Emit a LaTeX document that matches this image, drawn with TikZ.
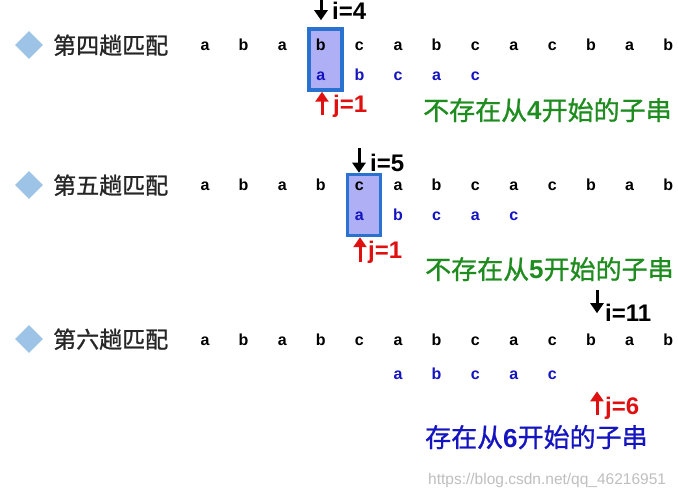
\documentclass[tikz,border=0pt]{standalone}
\usepackage{fontspec}
\setmainfont{Liberation Sans}
\newfontfamily\cjk{Noto Sans CJK SC}[FakeBold=1]
\usetikzlibrary{arrows.meta,positioning,shapes.geometric}
\definecolor{boxfill}{HTML}{AFAFF5}
\definecolor{boxline}{HTML}{2A72D0}
\definecolor{patblue}{HTML}{1414C0}
\definecolor{jred}{HTML}{E01010}
\definecolor{okgreen}{HTML}{1E8C1E}
\definecolor{diablue}{HTML}{9DC3E6}
\tikzset{
    ch/.style={
           anchor=base,
           inner sep=0pt,
           font=\bfseries\fontsize{16}{16}\selectfont},
    pat/.style={
           ch,
           text=patblue},
    rowlbl/.style={
           anchor=base west,
           inner sep=0pt,
           text=black!85,
           font=\cjk\fontsize{23}{23}\selectfont},
    diam/.style={
           diamond,
           fill=diablue,
           minimum width=28pt,
           minimum height=28pt,
           inner sep=0pt},
    win/.style={
           draw=boxline, line width=3.5pt,
           fill=boxfill,
           minimum width=33pt,
           minimum height=61pt,
           inner sep=0pt},
    ptr/.style={
           line width=3pt,
           -{Triangle[width=13pt,length=10pt]}},
    ijlbl/.style={
           anchor=base west,
           inner sep=0pt,
           font=\bfseries\fontsize{24}{24}\selectfont},
    note/.style={
           anchor=base west,
           inner sep=0pt,
           font=\cjk\fontsize{26}{26}\selectfont}
}

\begin{document}
\begin{tikzpicture}[x=1pt, y=-1pt]
        \useasboundingbox[fill=white] (0,0) rectangle (678,497);

        % windows round the first compared letter
        \node[win] (win4) at (325.5,59.5) {};
        \node[win] (win5) at (364,205) {};

        % rows
        \foreach \r/\y/\t in {4/51/第四趟匹配, 5/191/第五趟匹配, 6/345/第六趟匹配} {
            \node[diam] (dia\r) at (29,\y-6) {};
            \node[rowlbl] (lbl\r) at (53,\y+3) {\t};
            \foreach \c [count=\k] in {a,b,a,b,c,a,b,c,a,c,b,a,b}
                \node[ch] (s\r-\k) at ({205+38.6*(\k-1)},\y) {\c};
        }
        \foreach \c [count=\k from 4] in {a,b,c,a,c}
            \node[pat] (p4-\k) at ({205+38.6*(\k-1)},81) {\c};
        \foreach \c [count=\k from 5] in {a,b,c,a,c}
            \node[pat] (p5-\k) at ({205+38.6*(\k-1)},221) {\c};
        \foreach \c [count=\k from 6] in {a,b,c,a,c}
            \node[pat] (p6-\k) at ({205+38.6*(\k-1)},379) {\c};

        % pointers i and j
        \coordinate (i4top) at (321,0);
        \coordinate (j4bot) at (322,115);
        \coordinate (i5top) at (359,148);
        \coordinate (j5bot) at (360,262);
        \coordinate (i6top) at (597,290);
        \coordinate (j6bot) at (597,415);

        \draw[ptr, shorten >=7pt] (i4top) -- (i4top |- win4.north);
        \draw[ptr, jred] (j4bot) -- (j4bot |- win4.south);
        \draw[ptr] (i5top) -- (i5top |- win5.north);
        \draw[ptr, jred] (j5bot) -- (j5bot |- win5.south);
        \draw[ptr, shorten >=20pt] (i6top) -- (i6top |- s6-11.north);
        \draw[ptr, jred, shorten >=12pt] (j6bot) -- (j6bot |- p6-10.south);

        \node[ijlbl] (i4) at (332,20) {i=4};
        \node[ijlbl, text=jred] (j4) at (333,113) {j=1};
        \node[ijlbl] (i5) at (370,172) {i=5};
        \node[ijlbl, text=jred] (j5) at (368,259) {j=1};
        \node[ijlbl] (i6) at (605,322) {i=11};
        \node[ijlbl, text=jred] (j6) at (605,414) {j=6};

        % results
        \node[note, text=okgreen] (res4) at (423,120) {不存在从{\rmfamily\bfseries 4}开始的子串};
        \node[note, text=okgreen] (res5) at (425,279) {不存在从{\rmfamily\bfseries 5}开始的子串};
        \node[note, text=patblue] (res6) at (425,447) {存在从{\rmfamily\bfseries 6}开始的子串};

        \node[anchor=base west, inner sep=0pt, text=black!25, font=\fontsize{15.5}{15.5}\selectfont] (wm) at (428,484) {https://blog.csdn.net/qq\_46216951};
\end{tikzpicture}
\end{document}
